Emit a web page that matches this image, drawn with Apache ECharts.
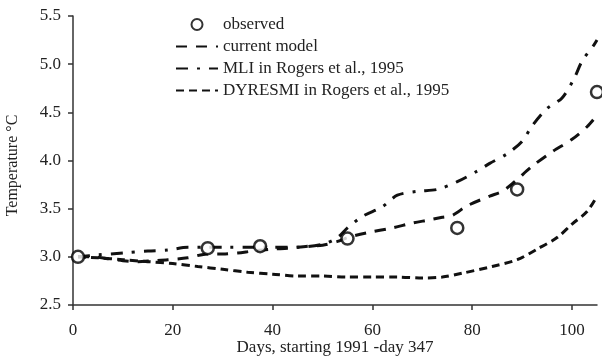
<!DOCTYPE html>
<html>
<head>
<meta charset="utf-8">
<script src="https://cdn.jsdelivr.net/npm/echarts@6/dist/echarts.min.js"></script>
<style>
  html, body { margin: 0; padding: 0; background: #fff; }
  #chart { width: 602px; height: 358px; }
</style>
</head>
<body>
<div id="chart"></div>
<script>
// Lake temperature: observations and three model runs
const xTicks = [0, 20, 40, 60, 80, 100];

const obsDays  = [1, 27, 37.5, 55, 77, 89, 105];
const obsTemps = [3.0, 3.09, 3.11, 3.19, 3.30, 3.70, 4.71];

const currentDays  = [1, 4, 7, 10, 13, 16, 19, 23, 27, 30, 33, 36, 40, 43, 47, 50, 53, 55, 59, 64, 68, 71, 74, 76, 79, 83.5, 86, 88.5, 92, 96, 100, 103, 105];
const currentTemps = [3.0, 3.0, 2.98, 2.96, 2.95, 2.96, 2.97, 2.99, 3.03, 3.03, 3.04, 3.06, 3.08, 3.09, 3.11, 3.12, 3.16, 3.2, 3.25, 3.3, 3.35, 3.38, 3.41, 3.43, 3.53, 3.63, 3.68, 3.78, 3.94, 4.09, 4.22, 4.35, 4.47];

const mliDays  = [1, 5, 10, 15, 19, 23, 27, 31, 36, 40, 45, 50, 53, 55, 58, 62, 65, 69, 73, 77, 81, 83.5, 87, 90, 92, 95, 98, 100.4, 102, 104.4, 105];
const mliTemps = [3.0, 3.02, 3.04, 3.06, 3.07, 3.1, 3.1, 3.1, 3.1, 3.1, 3.1, 3.13, 3.2, 3.3, 3.42, 3.52, 3.64, 3.68, 3.70, 3.78, 3.89, 3.97, 4.07, 4.2, 4.36, 4.54, 4.65, 4.85, 5.03, 5.2, 5.25];

const dyresmiDays  = [1, 5, 10, 15, 20, 25, 30, 35, 40, 45, 50, 55, 60, 65, 70, 74, 78, 84, 89, 93, 97, 100, 103, 105];
const dyresmiTemps = [3.0, 2.99, 2.97, 2.95, 2.93, 2.9, 2.87, 2.84, 2.82, 2.8, 2.8, 2.79, 2.79, 2.79, 2.78, 2.79, 2.83, 2.9, 2.97, 3.08, 3.2, 3.34, 3.47, 3.63];

const names = ['observed', 'current model', 'MLI in Rogers et al., 1995', 'DYRESMI in Rogers et al., 1995'];

const pairs = (xs, ys) => xs.map((x, i) => [x, ys[i]]);
const serif = '"Liberation Serif", "DejaVu Serif", serif';
const ink = '#111';
const textInk = '#222';

function lineSeries(name, xs, ys, dash) {
  return {
    name, type: 'line', data: pairs(xs, ys),
    symbol: 'none', smooth: 0.3,
    lineStyle: { color: ink, width: 3, type: dash, cap: 'butt' },
    itemStyle: { color: ink },
    z: 2
  };
}

// line entries in the legend show only their dash pattern, no marker
const legendData = names.map((n, i) => i === 0 ? { name: n } : { name: n, itemStyle: { opacity: 0 } });

const chart = echarts.init(document.getElementById('chart'), null, { renderer: 'canvas' });
chart.setOption({
  animation: false,
  backgroundColor: '#fff',
  grid: { left: 73, right: 5, top: 16, bottom: 53, outerBoundsMode: 'none', containLabel: false },
  legend: {
    orient: 'vertical', left: 170, top: 11,
    itemWidth: 42, itemHeight: 11, itemGap: 5,
    data: legendData,
    textStyle: { fontFamily: serif, fontSize: 17, color: textInk }
  },
  xAxis: {
    type: 'value', min: 0, max: 105,
    name: 'Days, starting 1991 -day 347',
    nameLocation: 'middle', nameGap: 34, nameMoveOverlap: false,
    nameTextStyle: { fontFamily: serif, fontSize: 17, color: textInk },
    axisLine: { lineStyle: { color: '#333', width: 1.5 } },
    axisTick: { show: true, length: 5, customValues: xTicks, lineStyle: { color: '#333', width: 1.5 } },
    axisLabel: { customValues: xTicks, fontFamily: serif, fontSize: 17, color: textInk, margin: 17 },
    splitLine: { show: false }
  },
  yAxis: {
    type: 'value', min: 2.5, max: 5.5, interval: 0.5,
    name: 'Temperature °C',
    nameLocation: 'middle', nameGap: 52, nameMoveOverlap: false,
    nameTextStyle: { fontFamily: serif, fontSize: 16, color: textInk, padding: [0, 10, 0, 0] },
    axisLine: { show: true, lineStyle: { color: '#333', width: 1.5 } },
    axisTick: { show: true, length: 5, lineStyle: { color: '#333', width: 1.5 } },
    axisLabel: { fontFamily: serif, fontSize: 17, color: textInk, margin: 12, formatter: v => v.toFixed(1) },
    splitLine: { show: false }
  },
  series: [
    {
      name: names[0], type: 'scatter', data: pairs(obsDays, obsTemps),
      symbol: 'circle', symbolSize: 12, clip: false,
      itemStyle: { color: '#fff', borderColor: '#000', borderWidth: 2.5 },
      z: 3
    },
    lineSeries(names[1], currentDays, currentTemps, [11, 9]),
    lineSeries(names[2], mliDays, mliTemps, [12, 9, 3, 9]),
    lineSeries(names[3], dyresmiDays, dyresmiTemps, [8, 5])
  ]
});
</script>
</body>
</html>
